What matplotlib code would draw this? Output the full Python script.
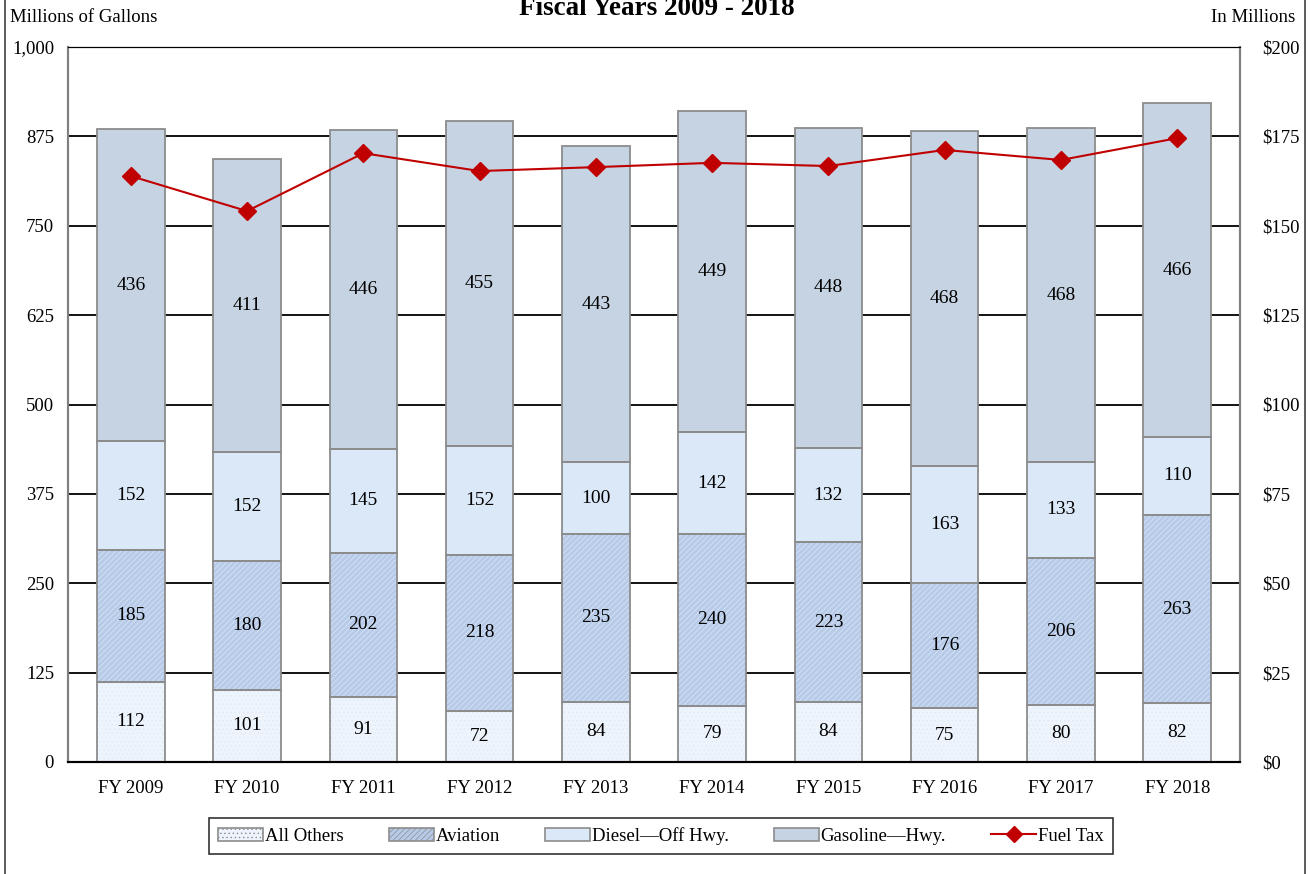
import numpy as np
import matplotlib.pyplot as plt
from matplotlib.patches import Rectangle
from matplotlib.lines import Line2D

plt.rcParams['font.family'] = ['Liberation Serif', 'DejaVu Serif']
plt.rcParams['hatch.linewidth'] = 0.5

years = ['FY 2009', 'FY 2010', 'FY 2011', 'FY 2012', 'FY 2013',
         'FY 2014', 'FY 2015', 'FY 2016', 'FY 2017', 'FY 2018']
all_others = [112, 101, 91, 72, 84, 79, 84, 75, 80, 82]
aviation = [185, 180, 202, 218, 235, 240, 223, 176, 206, 263]
diesel = [152, 152, 145, 152, 100, 142, 132, 163, 133, 110]
gasoline = [436, 411, 446, 455, 443, 449, 448, 468, 468, 466]
fuel_tax = [163.9, 154.1, 170.3, 165.3, 166.4, 167.6, 166.7, 171.2, 168.4, 174.5]

series = [
    ('All Others', all_others, '#eef4fc', '....', '#e0e9f6'),
    ('Aviation', aviation, '#b7cbe9', '//////', '#dde7f6'),
    ('Diesel\u2014Off Hwy.', diesel, '#dbe8f8', None, None),
    ('Gasoline\u2014Hwy.', gasoline, '#c6d3e2', None, None),
]

fig = plt.figure(figsize=(13.12, 8.74), dpi=100)
ax = fig.add_axes([68/1312, 112/874, (1240-68)/1312, (762-47)/874])
ax2 = ax.twinx()

x = np.arange(len(years))
w = 0.58
bottom = np.zeros(len(years))
handles = []
for name, vals, fc, hatch, hc in series:
    vals = np.array(vals)
    if hatch:
        ax.bar(x, vals, w, bottom=bottom, color=fc, edgecolor=hc, hatch=hatch,
               linewidth=0, zorder=2)
    else:
        ax.bar(x, vals, w, bottom=bottom, color=fc, linewidth=0, zorder=2)
    ax.bar(x, vals, w, bottom=bottom, fill=False, edgecolor='#8c8c8c',
           linewidth=1.3, zorder=3)
    for xi, b, v in zip(x, bottom, vals):
        ax.text(xi, b + v / 2, str(v), ha='center', va='center',
                fontsize=14, zorder=4)
    handles.append(Rectangle((0, 0), 1, 1, facecolor=fc, edgecolor='#8c8c8c',
                             hatch=hatch, linewidth=1.2))
    bottom += vals

ax2.plot(x, fuel_tax, color='#c00000', marker='D', markersize=9,
         linewidth=1.5, zorder=5)
handles.append(Line2D([], [], color='#c00000', marker='D', markersize=8,
                      linewidth=1.5))

ax.set_xlim(-0.54, len(years) - 0.46)
ax.set_ylim(0, 1000)
ax.set_yticks(np.arange(0, 1001, 125))
ax.set_yticklabels(['0', '125', '250', '375', '500', '625', '750', '875', '1,000'])
ax.yaxis.grid(True, color='black', linewidth=1.3, zorder=0)
ax.set_axisbelow(True)
ax.set_xticks(x)
ax.set_xticklabels(years)
ax.tick_params(axis='both', length=0, labelsize=13.5)
ax.tick_params(axis='x', pad=13)
ax.tick_params(axis='y', pad=10)

ax2.set_ylim(0, 200)
ax2.set_yticks(np.arange(0, 201, 25))
ax2.set_yticklabels(['$%d' % v for v in range(0, 201, 25)])
ax2.tick_params(axis='y', length=0, labelsize=13.5, pad=16)

for a in (ax, ax2):
    a.spines['left'].set_color('#808080')
    a.spines['right'].set_color('#808080')
    a.spines['left'].set_linewidth(1.5)
    a.spines['right'].set_linewidth(1.5)
    a.spines['top'].set_color('black')
    a.spines['bottom'].set_color('black')
    a.spines['bottom'].set_linewidth(1.5)

leg = fig.legend(handles, [s[0] for s in series] + ['Fuel Tax'],
                 loc='center', bbox_to_anchor=(661/1312, 1 - 836/874),
                 ncol=5, fontsize=13.5, frameon=True, fancybox=False,
                 edgecolor='black', handlelength=2.4, handletextpad=0.1,
                 columnspacing=2.4, borderpad=0.5)
leg.get_frame().set_linewidth(1.2)

fig.text(657/1312, 1 - 15/874, 'Fiscal Years 2009 - 2018', ha='center',
         va='baseline', fontsize=19.5, fontweight='bold')
fig.text(10/1312, 1 - 17/874, 'Millions of Gallons', ha='left', va='center',
         fontsize=13.5)
fig.text(1295/1312, 1 - 17/874, 'In Millions', ha='right', va='center',
         fontsize=13.5)

fig.add_artist(Rectangle((5/1312, -0.01), 1300/1312, 1.02,
                         transform=fig.transFigure, fill=False,
                         edgecolor='#404040', linewidth=1.2))

fig.savefig('out.png', dpi=100)
